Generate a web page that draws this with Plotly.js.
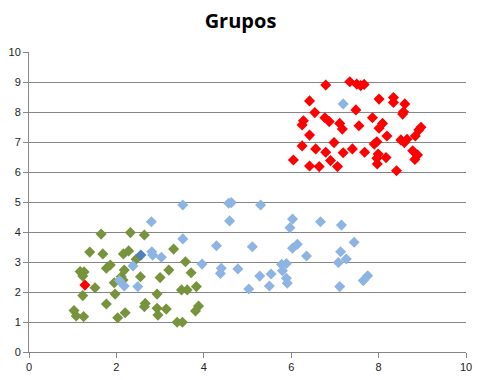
<!DOCTYPE html>
<html>
<head>
<meta charset="utf-8">
<script src="https://cdn.plot.ly/plotly-3.0.1.min.js"></script>
<style>html,body{margin:0;padding:0;background:#fff;}#chart{width:481px;height:380px;}</style>
</head>
<body>
<div id="chart"></div>
<script>
// Group 1 (green)
const greenX = [1.65,2.32,2.64,1.39,1.69,2.16,2.28,3.31,2.45,3.58,1.86,1.77,2.18,1.17,1.26,1.23,3.2,3.71,2.11,2.15,2.55,3.0,1.95,1.51,3.49,3.62,3.83,1.23,1.97,2.93,1.77,2.66,2.64,2.93,3.14,3.88,3.81,1.03,1.08,1.25,2.2,2.03,2.95,3.39,3.51];
const greenY = [3.93,3.98,3.9,3.33,3.27,3.27,3.37,3.43,3.09,3.01,2.9,2.79,2.73,2.68,2.67,2.53,2.73,2.64,2.51,2.4,2.51,2.48,2.31,2.14,2.07,2.07,2.18,1.88,1.93,1.93,1.6,1.62,1.51,1.46,1.43,1.53,1.37,1.38,1.2,1.18,1.31,1.14,1.23,0.99,0.99];
// Group 2 (light blue)
const blueX = [2.8,3.52,3.52,2.81,2.83,3.03,2.38,2.07,2.18,2.49,3.96,4.29,4.4,4.38,4.78,4.57,4.63,4.59,5.03,5.3,6.03,5.97,6.67,7.15,5.11,6.03,6.14,6.35,7.13,7.44,7.26,7.08,5.78,5.89,5.8,5.54,5.28,5.89,5.91,5.5,7.11,7.75,7.65,7.19];
const blueY = [4.34,4.9,3.77,3.34,3.23,3.16,2.87,2.38,2.2,2.18,2.93,3.54,2.79,2.62,2.77,4.96,4.98,4.37,2.1,4.9,4.43,4.14,4.34,4.23,3.51,3.46,3.59,3.2,3.34,3.66,3.1,2.98,2.92,2.95,2.71,2.6,2.53,2.46,2.29,2.2,2.18,2.54,2.38,8.27];
// Group 3 (red)
const redX = [6.79,7.34,7.5,7.59,7.67,6.42,8.01,8.34,8.34,8.6,7.48,6.54,8.57,8.55,6.28,6.25,6.77,6.87,7.11,7.17,7.86,8.09,8.01,7.55,8.97,8.92,6.42,8.19,8.84,6.98,7.9,7.96,8.51,8.59,8.65,6.25,6.56,7.4,6.79,7.19,7.68,7.99,8.78,8.89,8.83,7.96,8.17,6.05,6.9,6.42,6.64,7.06,7.97,8.41,1.28];
const redY = [8.9,9.01,8.93,8.88,8.92,8.37,8.43,8.48,8.32,8.27,8.07,7.98,8.01,7.93,7.71,7.57,7.81,7.68,7.62,7.43,7.81,7.62,7.46,7.54,7.49,7.4,7.23,7.2,7.2,6.98,6.93,7.01,7.07,6.98,7.09,6.87,6.77,6.77,6.66,6.64,6.66,6.6,6.71,6.57,6.42,6.46,6.48,6.4,6.38,6.2,6.18,6.18,6.27,6.04,2.23];
// Highlighted point (dark blue)
const darkX = [2.56];
const darkY = [3.23];

const mk = (c) => ({symbol: 'diamond', size: 8.5, color: c, line: {width: 0}});
const data = [
  {x: greenX, y: greenY, type: 'scatter', mode: 'markers', marker: mk('#77933C'), name: 'Grupo 1'},
  {x: blueX, y: blueY, type: 'scatter', mode: 'markers', marker: mk('#8EB4E3'), name: 'Grupo 2'},
  {x: redX, y: redY, type: 'scatter', mode: 'markers', marker: mk('#FF0000'), name: 'Grupo 3'},
  {x: darkX, y: darkY, type: 'scatter', mode: 'markers', marker: mk('#4F81BD'), name: 'Centro'}
];
const layout = {
  width: 481, height: 380,
  margin: {l: 29, r: 15, t: 52, b: 28},
  paper_bgcolor: '#fff', plot_bgcolor: '#fff',
  showlegend: false,
  title: {text: '<b>Grupos</b>', x: 0.5, xanchor: 'center', y: 0.945, yanchor: 'middle',
          font: {family: 'Open Sans, sans-serif', size: 20, color: '#000'}},
  xaxis: {range: [0, 10], dtick: 2, showgrid: false, zeroline: false,
          showline: true, linecolor: '#868686', linewidth: 1,
          ticks: 'outside', ticklen: 5, tickcolor: '#868686',
          tickfont: {family: 'Liberation Sans, Arial, sans-serif', size: 11, color: '#222'}},
  yaxis: {range: [0, 10], dtick: 1, showgrid: true, gridcolor: '#868686', gridwidth: 1, zeroline: false,
          showline: true, linecolor: '#868686', linewidth: 1,
          ticks: 'outside', ticklen: 5, tickcolor: '#868686',
          tickfont: {family: 'Liberation Sans, Arial, sans-serif', size: 11, color: '#222'}}
};
Plotly.newPlot('chart', data, layout, {displayModeBar: false, staticPlot: true});
</script>
</body>
</html>
